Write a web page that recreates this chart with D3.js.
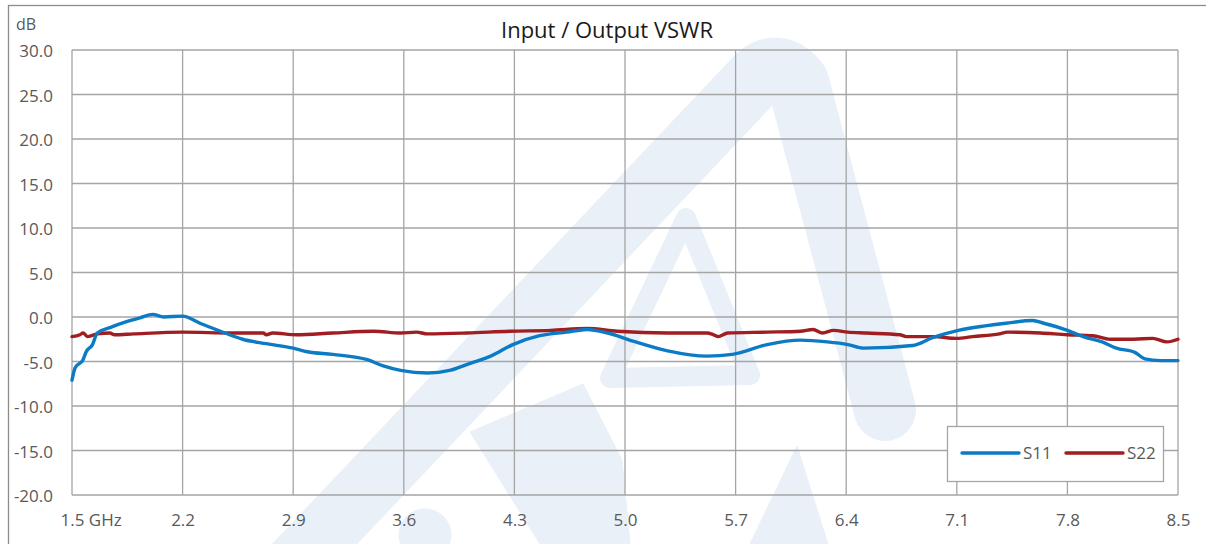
<!DOCTYPE html>
<html>
<head>
<meta charset="utf-8">
<script src="https://cdn.jsdelivr.net/npm/d3@7"></script>
<style>
  body { margin: 0; background: #fff; }
  svg { display: block; font-family: "Open Sans", "Noto Sans", sans-serif; }
</style>
</head>
<body>
<svg width="1206" height="544"></svg>
<script>
// tick values
var freqTicks = [1.5, 2.2, 2.9, 3.6, 4.3, 5.0, 5.7, 6.4, 7.1, 7.8, 8.5];
var dbTicks = [-20, -15, -10, -5, 0, 5, 10, 15, 20, 25, 30];

// S11 (input)
var s11Freq = [1.50, 1.52, 1.57, 1.59, 1.63, 1.66, 1.74, 1.85, 1.93, 2.01, 2.08, 2.20, 2.31, 2.44, 2.58,
               2.73, 2.90, 2.99, 3.15, 3.37, 3.47, 3.58, 3.75, 3.89, 4.02, 4.15, 4.29, 4.46, 4.63, 4.76,
               4.89, 5.05, 5.27, 5.52, 5.68, 5.90, 6.11, 6.28, 6.41, 6.51, 6.82, 6.95, 7.11, 7.28, 7.41,
               7.58, 7.65, 7.80, 7.90, 8.02, 8.11, 8.23, 8.29, 8.39, 8.50];
var s11Db = [-7.1, -5.7, -4.8, -3.9, -3.1, -1.8, -1.2, -0.5, -0.1, 0.3, 0.0, 0.1, -0.7, -1.6, -2.5,
             -3.0, -3.5, -3.9, -4.2, -4.8, -5.5, -6.0, -6.3, -6.0, -5.2, -4.4, -3.1, -2.1, -1.7, -1.4,
             -1.8, -2.7, -3.8, -4.4, -4.2, -3.1, -2.6, -2.8, -3.1, -3.5, -3.2, -2.3, -1.5, -1.0, -0.7,
             -0.4, -0.7, -1.5, -2.2, -2.8, -3.5, -4.0, -4.7, -4.9, -4.9];

// S22 (output)
var s22Freq = [1.50, 1.55, 1.57, 1.60, 1.66, 1.74, 1.77, 1.89, 2.20, 2.52, 2.71, 2.73, 2.77, 2.92, 3.15,
               3.41, 3.58, 3.68, 3.75, 4.00, 4.27, 4.53, 4.76, 4.95, 5.27, 5.52, 5.56, 5.59, 5.65, 5.90,
               6.11, 6.19, 6.25, 6.32, 6.41, 6.53, 6.74, 6.78, 6.95, 7.10, 7.20, 7.37, 7.42, 7.63, 7.80,
               7.96, 8.07, 8.22, 8.34, 8.43, 8.50];
var s22Db = [-2.2, -2.0, -1.8, -2.2, -1.9, -1.8, -2.0, -1.9, -1.7, -1.8, -1.8, -2.0, -1.8, -2.0, -1.8,
             -1.6, -1.8, -1.7, -1.9, -1.8, -1.6, -1.5, -1.3, -1.6, -1.8, -1.8, -2.0, -2.2, -1.8, -1.7,
             -1.6, -1.4, -1.8, -1.5, -1.7, -1.8, -2.0, -2.2, -2.2, -2.4, -2.2, -1.9, -1.7, -1.8, -2.0,
             -2.1, -2.5, -2.5, -2.4, -2.8, -2.5];

var seriesNames = ["S11", "S22"];
var seriesColors = ["#0b7bc5", "#a01d21"];

var svg = d3.select("svg");
var plotLeft = 72, plotTop = 50, plotRight = 1178, plotBottom = 495;

var x = d3.scaleLinear().domain([1.5, 8.5]).range([plotLeft, plotRight]);
var y = d3.scaleLinear().domain([-20, 30]).range([plotBottom, plotTop]);

// outer chart frame (runs off the right and bottom edges)
svg.append("rect")
   .attr("x", 8.5).attr("y", 5.5)
   .attr("width", 1220).attr("height", 580)
   .attr("fill", "#fff")
   .attr("stroke", "#8c8c8c")
   .attr("stroke-width", 1.3);

// faint logo watermark behind the plot
var wmColor = "#e9f0f8";
var wm = svg.append("g").attr("fill", wmColor).attr("stroke", wmColor);
wm.append("path")
  .attr("d", "M290,570 L752,82 Q775,55 798,82 L885,410")
  .attr("fill", "none")
  .attr("stroke-width", 62)
  .attr("stroke-linejoin", "round")
  .attr("stroke-linecap", "round");
wm.append("path")
  .attr("d", "M610,378 L686,218 L750,375 Z")
  .attr("fill", "none")
  .attr("stroke-width", 20)
  .attr("stroke-linejoin", "round");
wm.append("path").attr("d", "M583,384 L470,432 L540,544 L630,544 L622,460 Z").attr("stroke-width", 1);
wm.append("path").attr("d", "M797,446 L750,544 L828,544 Z").attr("stroke-width", 1);
wm.append("ellipse").attr("cx", 425).attr("cy", 535).attr("rx", 26).attr("ry", 26);

// grid
var grid = svg.append("g").attr("stroke", "#a5a5a5").attr("stroke-width", 1.3);
grid.selectAll(".hg").data(dbTicks).enter().append("line")
    .attr("x1", plotLeft).attr("x2", plotRight)
    .attr("y1", d => y(d)).attr("y2", d => y(d));
grid.selectAll(".vg").data(freqTicks).enter().append("line")
    .attr("x1", d => x(d)).attr("x2", d => x(d))
    .attr("y1", plotTop).attr("y2", plotBottom);

// axes (labels only)
var yAxis = d3.axisLeft(y).tickValues(dbTicks).tickSize(0).tickPadding(19)
              .tickFormat(d => d.toFixed(1));
var gy = svg.append("g").attr("transform", "translate(" + plotLeft + ",0)").call(yAxis);

var xAxis = d3.axisBottom(x).tickValues(freqTicks).tickSize(0)
              .tickFormat((d, i) => i === 0 ? "1.5 GHz" : d.toFixed(1));
var gx = svg.append("g").attr("transform", "translate(0," + plotBottom + ")").call(xAxis);

svg.selectAll(".domain").remove();
svg.selectAll(".tick text")
   .attr("fill", "#595959")
   .attr("font-size", 17)
   .attr("font-family", "'Open Sans', sans-serif");
gx.selectAll(".tick text").attr("y", 19);
gx.selectAll(".tick text").filter((d, i) => i === 0)
  .attr("text-anchor", "start").attr("dx", -12);
gy.selectAll(".tick text").attr("dy", "0.40em");

// series
var line = d3.line().x(d => x(d[0])).y(d => y(d[1])).curve(d3.curveMonotoneX);
var s11 = s11Freq.map((f, i) => [f, s11Db[i]]);
var s22 = s22Freq.map((f, i) => [f, s22Db[i]]);

svg.append("path").datum(s22)
   .attr("d", line).attr("fill", "none")
   .attr("stroke", seriesColors[1]).attr("stroke-width", 3.4)
   .attr("stroke-linejoin", "round").attr("stroke-linecap", "round");
svg.append("path").datum(s11)
   .attr("d", line).attr("fill", "none")
   .attr("stroke", seriesColors[0]).attr("stroke-width", 3.4)
   .attr("stroke-linejoin", "round").attr("stroke-linecap", "round");

// title and unit
svg.append("text")
   .attr("x", 607).attr("y", 38)
   .attr("text-anchor", "middle")
   .attr("font-size", 22)
   .attr("fill", "#1a1a1a")
   .text("Input / Output VSWR");
svg.append("text")
   .attr("x", 16).attr("y", 30)
   .attr("font-size", 16)
   .attr("fill", "#595959")
   .text("dB");

// legend
var lg = svg.append("g");
lg.append("rect")
  .attr("x", 947.5).attr("y", 426.5)
  .attr("width", 216).attr("height", 55)
  .attr("fill", "#fff")
  .attr("stroke", "#a5a5a5").attr("stroke-width", 1.3);
var items = lg.selectAll(".item").data(seriesNames).enter().append("g")
   .attr("transform", (d, i) => "translate(" + (962 + i * 104) + ",453)");
items.append("line")
   .attr("x1", 0).attr("x2", 57)
   .attr("stroke", (d, i) => seriesColors[i])
   .attr("stroke-width", 3.4).attr("stroke-linecap", "round");
items.append("text")
   .attr("x", 61).attr("dy", "0.36em")
   .attr("font-size", 17)
   .attr("fill", "#595959")
   .text(d => d);
</script>
</body>
</html>
